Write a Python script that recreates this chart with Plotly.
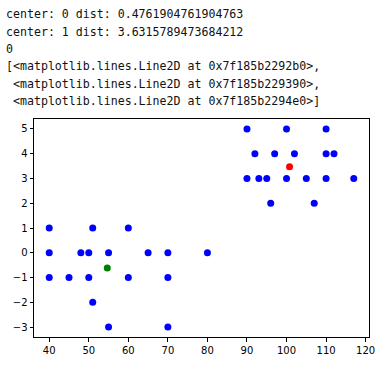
import plotly.graph_objects as go

# data points (blue)
x_points = [40, 51, 60,
            40, 48, 50, 55, 65, 70, 80,
            40, 45, 50, 60, 70,
            51,
            55, 70,
            90, 100, 110,
            92, 97, 102, 110, 112,
            90, 93, 95, 100, 105, 110, 117,
            96, 107]
y_points = [1, 1, 1,
            0, 0, 0, 0, 0, 0, 0,
            -1, -1, -1, -1, -1,
            -2,
            -3, -3,
            5, 5, 5,
            4, 4, 4, 4, 4,
            3, 3, 3, 3, 3, 3, 3,
            2, 2]

# cluster centers
center_red_x = [100.76]
center_red_y = [3.47]
center_green_x = [54.68]
center_green_y = [-0.61]

x_ticks = [40, 50, 60, 70, 80, 90, 100, 110, 120]
y_ticks = [-3, -2, -1, 0, 1, 2, 3, 4, 5]

output_lines = [
    "center: 0 dist: 0.4761904761904763",
    "center: 1 dist: 3.6315789473684212",
    "0",
    "[<matplotlib.lines.Line2D at 0x7f185b2292b0>,",
    " <matplotlib.lines.Line2D at 0x7f185b229390>,",
    " <matplotlib.lines.Line2D at 0x7f185b2294e0>]",
]

W, H = 379, 369
L, R, T, B = 34, 10, 119, 32
plot_w = W - L - R
plot_h = H - T - B

fig = go.Figure()
fig.add_trace(go.Scatter(x=x_points, y=y_points, mode="markers",
                         marker=dict(color="#0000ff", size=7, line=dict(width=0)),
                         showlegend=False, hoverinfo="skip"))
fig.add_trace(go.Scatter(x=center_red_x, y=center_red_y, mode="markers",
                         marker=dict(color="#ff0000", size=7, line=dict(width=0)),
                         showlegend=False, hoverinfo="skip"))
fig.add_trace(go.Scatter(x=center_green_x, y=center_green_y, mode="markers",
                         marker=dict(color="#008000", size=7, line=dict(width=0)),
                         showlegend=False, hoverinfo="skip"))

line_centers = [14.2, 31.6, 49.0, 66.4, 83.8, 101.2]
annotations = []
for txt, yc in zip(output_lines, line_centers):
    annotations.append(dict(
        text=txt.replace(" ", "\u00a0"),
        xref="paper", yref="paper",
        x=(4 - L) / plot_w, y=(H - B - yc) / plot_h,
        xanchor="left", yanchor="middle",
        showarrow=False,
        font=dict(family="DejaVu Sans Mono", size=11.6, color="#111111"),
    ))

axis_common = dict(
    showline=True, linecolor="#000000", linewidth=1, mirror=True,
    ticks="outside", ticklen=3.5, tickwidth=1, tickcolor="#000000",
    showgrid=False, zeroline=False, automargin=False,
    tickfont=dict(family="DejaVu Sans", size=10, color="#000000"),
)

fig.update_layout(
    template="none",
    width=W, height=H,
    margin=dict(l=L, r=R, t=T, b=B, pad=0),
    paper_bgcolor="white", plot_bgcolor="white",
    xaxis=dict(range=[36.15, 120.85], tickvals=x_ticks, **axis_common),
    yaxis=dict(range=[-3.4, 5.4], tickvals=y_ticks, **axis_common),
    annotations=annotations,
)

fig.write_html("out.html", config={"displayModeBar": False, "staticPlot": True},
               post_script="document.body.style.margin='0';document.body.style.overflow='hidden';")
